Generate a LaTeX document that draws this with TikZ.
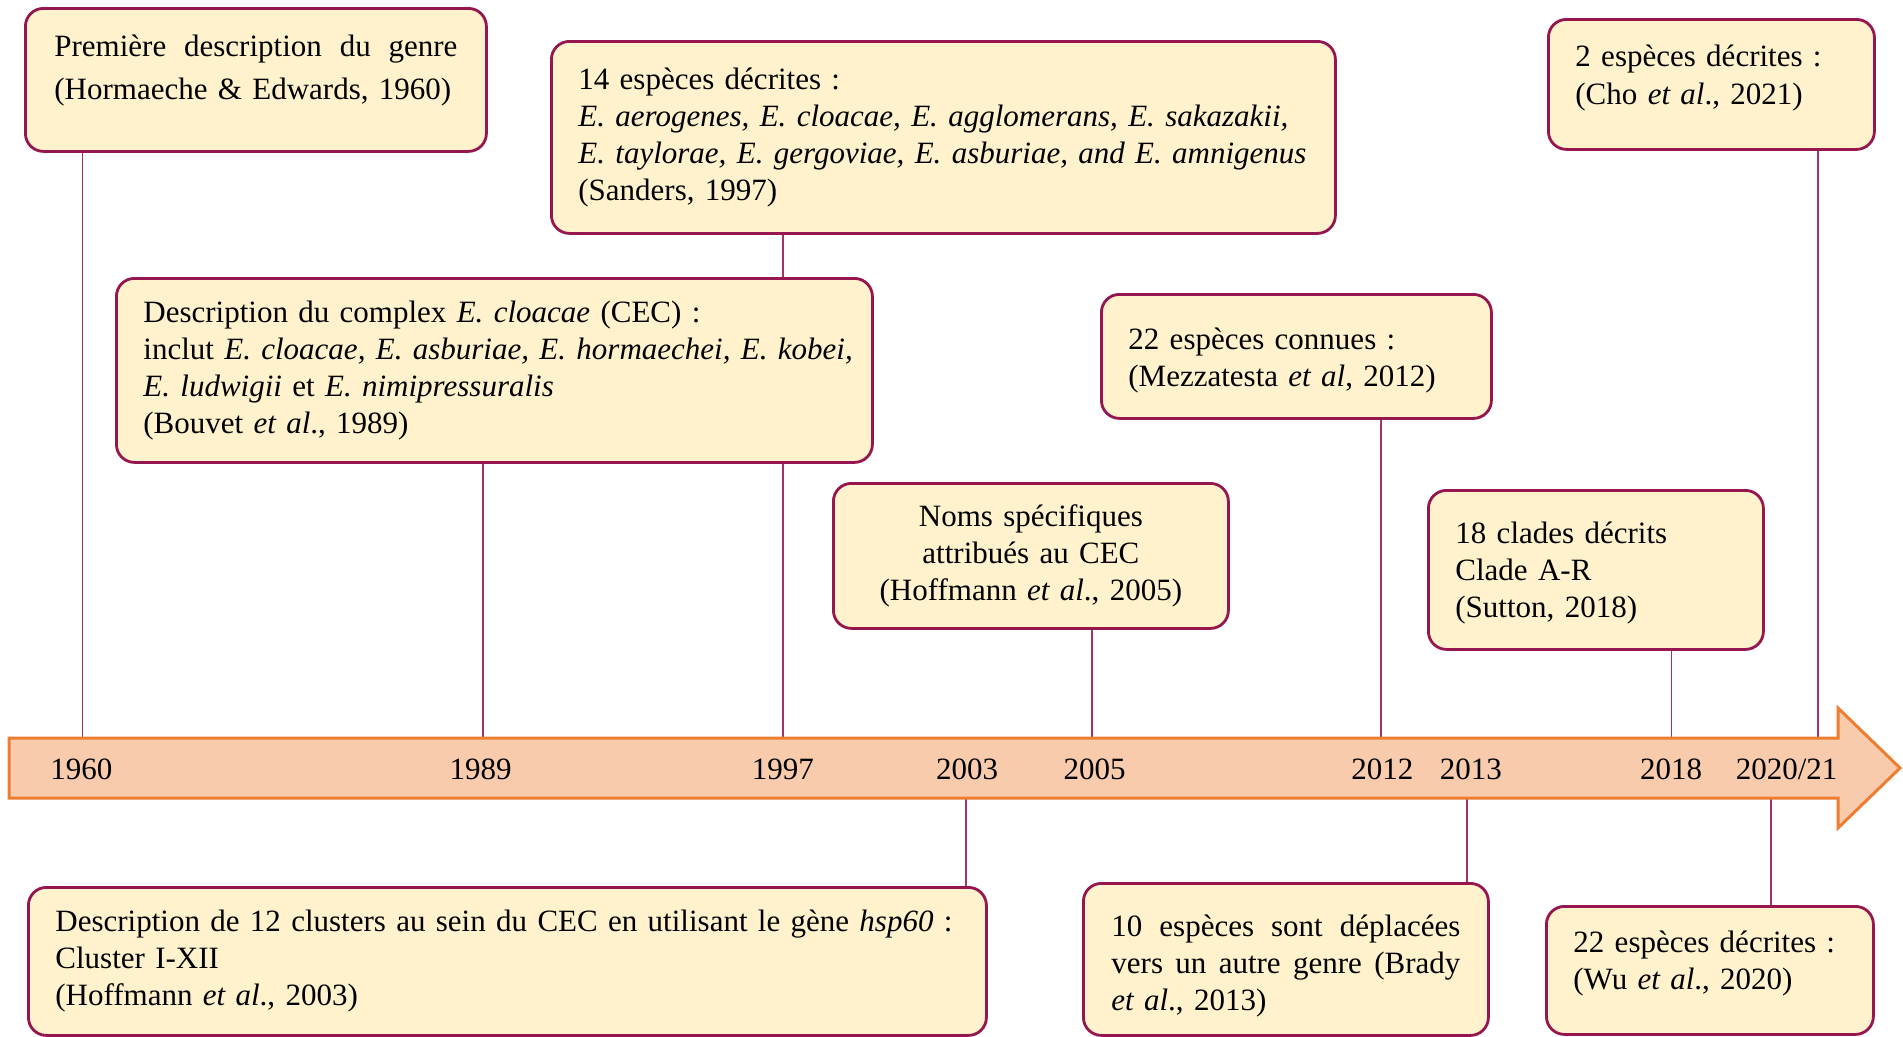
\documentclass[tikz,border=0pt]{standalone}
\usepackage{fontspec}
\setmainfont{Liberation Serif}
\usetikzlibrary{backgrounds}

\definecolor{boxfill}{RGB}{255,242,204}
\definecolor{boxline}{RGB}{150,22,80}
\definecolor{linkline}{RGB}{165,50,105}
\definecolor{barfill}{RGB}{248,203,173}
\definecolor{barline}{RGB}{237,125,49}

\newcommand\evfont{\fontsize{31}{37}\selectfont}

\tikzset{
  evbox/.style={draw=boxline, line width=2.8pt, fill=boxfill, rounded corners=18pt,
    anchor=north west, inner xsep=27pt, inner ysep=4pt, align=left, font=\evfont},
  yearlbl/.style={font=\evfont, inner sep=0pt},
  linkln/.style={draw=linkline, line width=1.8pt},
  timebar/.style={draw=barline, fill=barfill, line width=3pt}
}

\begin{document}
\begin{tikzpicture}[x=1pt,y=-1pt]
    \useasboundingbox (0,0) rectangle (1903,1036);
    \draw[timebar] (9,738) -- (1838,738) -- (1838,708) -- (1900,768) -- (1838,828) -- (1838,798) -- (9,798) -- cycle;

    \coordinate (t1960) at (82.5,738);
    \coordinate (t1989) at (483,738);
    \coordinate (t1997) at (783,738);
    \coordinate (t2005) at (1092,738);
    \coordinate (t2012) at (1381,738);
    \coordinate (t2018) at (1671.5,738);
    \coordinate (t2021) at (1818,738);
    \coordinate (b2003) at (966,798);
    \coordinate (b2013) at (1467,798);
    \coordinate (b2020) at (1771,798);

    \node[yearlbl] (y1960) at (81.3,769.5) {1960};
    \node[yearlbl] (y1989) at (480.6,769.5) {1989};
    \node[yearlbl] (y1997) at (782.8,769.5) {1997};
    \node[yearlbl] (y2003) at (967.2,769.5) {2003};
    \node[yearlbl] (y2005) at (1094.7,769.5) {2005};
    \node[yearlbl] (y2012) at (1382.3,769.5) {2012};
    \node[yearlbl] (y2013) at (1470.9,769.5) {2013};
    \node[yearlbl] (y2018) at (1671.1,769.5) {2018};
    \node[yearlbl] (y2021) at (1786.6,769.5) {2020/21};

    \node[evbox, minimum width=461pt, minimum height=143pt, text width=403pt,
      font=\fontsize{31}{43}\selectfont] (genre) at (24,7)
      {\leavevmode\hbox to\hsize{Première \hfill description \hfill du \hfill genre}\\
       \mbox{(Hormaeche \& Edwards, 1960)}\rule[-26pt]{0pt}{26pt}};
    \node[evbox, minimum width=784pt, minimum height=192pt, text width=730pt] (sanders) at (550,40)
      {14 espèces décrites :\\
       \mbox{\textit{E. aerogenes, E. cloacae, E. agglomerans, E. sakazakii,}}\\
       \mbox{\textit{E. taylorae, E. gergoviae, E. asburiae, and E. amnigenus}}\\
       (Sanders, 1997)};
    \node[evbox, minimum width=756pt, minimum height=184pt, text width=702pt] (bouvet) at (115,277)
      {Description du complex \textit{E. cloacae} (CEC) :\\
       \mbox{inclut \textit{E. cloacae, E. asburiae, E. hormaechei, E. kobei,}}\\
       \textit{E. ludwigii} et \textit{E. nimipressuralis}\\
       (Bouvet \textit{et al}., 1989)};
    \node[evbox, minimum width=390pt, minimum height=124pt, text width=336pt] (mezza) at (1100,293)
      {\rule{0pt}{29pt}22 espèces connues :\\(Mezzatesta \textit{et al}, 2012)};
    \node[evbox, minimum width=395pt, minimum height=145pt, text width=341pt, align=center] (noms) at (832,482)
      {Noms spécifiques\\attribués au CEC\\(Hoffmann \textit{et al}., 2005)};
    \node[evbox, minimum width=335pt, minimum height=159pt, text width=281pt] (sutton) at (1427,489)
      {\rule{0pt}{28pt}18 clades décrits\\Clade A-R\\(Sutton, 2018)};
    \node[evbox, minimum width=326pt, minimum height=130pt, text width=272pt,
      font=\fontsize{31}{38}\selectfont] (cho) at (1547,18)
      {2 espèces décrites :\\(Cho \textit{et al}., 2021)\rule[-20pt]{0pt}{20pt}};
    \node[evbox, minimum width=958pt, minimum height=148pt, text width=904pt] (hoff03) at (27,886)
      {\mbox{Description de 12 clusters au sein du CEC en utilisant le gène \textit{hsp60} :}\\
       Cluster I-XII\\
       (Hoffmann \textit{et al}., 2003)};
    \node[evbox, minimum width=405pt, minimum height=152pt, text width=349pt] (brady) at (1082,882)
      {\leavevmode\rule{0pt}{35pt}\hbox to\hsize{10 \hfill espèces \hfill sont \hfill déplacées}\\
       \leavevmode\hbox to\hsize{vers \hfill un \hfill autre \hfill genre \hfill (Brady}\\
       \textit{et al}., 2013)};
    \node[evbox, minimum width=327pt, minimum height=128pt, text width=273pt] (wu) at (1545,905)
      {22 espèces décrites :\\(Wu \textit{et al}., 2020)\rule[-20pt]{0pt}{20pt}};

    \begin{scope}[on background layer]
        \draw[linkln] (genre.south -| t1960) -- (t1960);
        \draw[linkln] (bouvet.south -| t1989) -- (t1989);
        \draw[linkln] (sanders.south -| t1997) -- (t1997);
        \draw[linkln] (noms.south -| t2005) -- (t2005);
        \draw[linkln] (mezza.south -| t2012) -- (t2012);
        \draw[linkln] (sutton.south -| t2018) -- (t2018);
        \draw[linkln] (cho.south -| t2021) -- (t2021);
        \draw[linkln] (b2003) -- (hoff03.north -| b2003);
        \draw[linkln] (b2013) -- (brady.north -| b2013);
        \draw[linkln] (b2020) -- (wu.north -| b2020);
    \end{scope}
\end{tikzpicture}
\end{document}
